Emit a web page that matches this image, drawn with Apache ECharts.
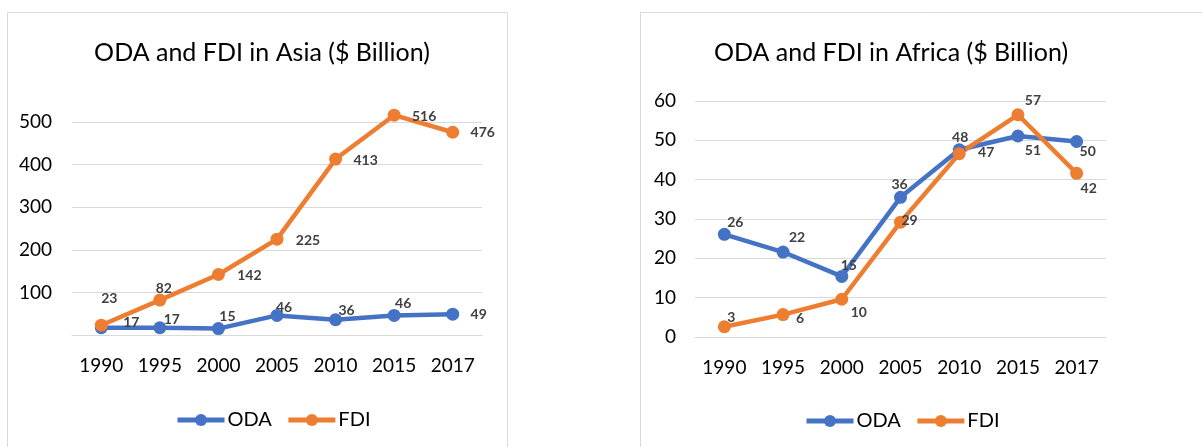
<!DOCTYPE html>
<html><head><meta charset="utf-8">
<script src="https://cdn.jsdelivr.net/npm/echarts@6/dist/echarts.min.js"></script>
<style>html,body{margin:0;padding:0;background:#fff}#c{width:1202px;height:447px}</style>
</head><body><div id="c"></div>
<script>
const years = ['1990','1995','2000','2005','2010','2015','2017'];
const asiaODA = [17, 17, 15, 46, 36, 46, 49];
const asiaFDI = [23, 82, 142, 225, 413, 516, 476];
const africaODA = [26.1, 21.6, 15.4, 35.5, 47.6, 51.1, 49.7];
const africaFDI = [2.6, 5.7, 9.6, 29.2, 46.6, 56.5, 41.6];
const asiaTicks = [0, 100, 200, 300, 400, 500];
const africaTicks = [0, 10, 20, 30, 40, 50, 60];

// label offsets (style only)
const offAsiaODA = [[30,-5],[12,-8],[9,-12],[7,-8],[11,-9],[9,-12],[26,0]];
const offAsiaFDI = [[8,-27],[4,-12],[31,1],[31,1],[30,1],[30,1],[30,0]];
const offAfODA = [[11,-12],[14,-15],[7,-11],[-1,-13],[1,-12],[15,14],[11,10]];
const offAfFDI = [[7,-9],[17,4],[17,13],[9,-2],[27,-1],[15,-14],[12,15]];

const BLUE = '#4472C4', ORANGE = '#ED7D31';
const FONT = 'Lato';

function mk(vals, offs) {
  return vals.map((v, i) => ({ value: v, label: { offset: offs[i] } }));
}
function series(name, vals, offs, color, idx) {
  return {
    name, type: 'line', xAxisIndex: idx, yAxisIndex: idx,
    data: mk(vals, offs), clip: false,
    symbol: 'circle', symbolSize: 13,
    lineStyle: { color, width: 4.5 },
    itemStyle: { color },
    label: {
      show: true, position: 'inside', color: '#404040', fontWeight: 'bold',
      fontFamily: FONT, fontSize: 14,
      formatter: p => Math.round(p.value)
    },
    emphasis: { disabled: true },
    animation: false
  };
}
const axisLabelStyle = { color: '#000', fontFamily: FONT, fontSize: 19 };
const legendCommon = {
  data: ['ODA', 'FDI'], itemWidth: 47, itemHeight: 15, itemGap: 14,
  lineStyle: { width: 5 },
  textStyle: { fontFamily: FONT, fontSize: 20, color: '#000', padding: [0, 0, 0, -2] },
  selectedMode: false
};
const chart = echarts.init(document.getElementById('c'), null, { renderer: 'canvas' });
chart.setOption({
  animation: false,
  graphic: [
    { type: 'rect', shape: { x: 7.5, y: 12.5, width: 500, height: 450 }, style: { fill: 'none', stroke: '#d9d9d9', lineWidth: 1 } },
    { type: 'rect', shape: { x: 640.5, y: 12.5, width: 600, height: 450 }, style: { fill: 'none', stroke: '#d9d9d9', lineWidth: 1 } }
  ],
  title: [
    { text: 'ODA and FDI in Asia ($ Billion)', left: 257, top: 35, textAlign: 'center',
      textStyle: { fontFamily: FONT, fontSize: 25, fontWeight: 'normal', color: '#000' } },
    { text: 'ODA and FDI in Africa ($ Billion)', left: 886, top: 35, textAlign: 'center',
      textStyle: { fontFamily: FONT, fontSize: 25, fontWeight: 'normal', color: '#000' } }
  ],
  legend: [
    Object.assign({ left: 170, top: 405 }, legendCommon),
    Object.assign({ left: 799, top: 406 }, legendCommon)
  ],
  grid: [
    { left: 72, width: 410, top: 122, height: 213 },
    { left: 695, width: 411, top: 101, height: 236 }
  ],
  xAxis: [0, 1].map(i => ({
    type: 'category', gridIndex: i, data: years, boundaryGap: true,
    axisLine: { lineStyle: { color: '#d9d9d9', width: 1 } },
    axisTick: { show: false },
    axisLabel: Object.assign({ margin: 21 }, axisLabelStyle)
  })),
  yAxis: [
    { type: 'value', gridIndex: 0, min: asiaTicks[0], max: asiaTicks[asiaTicks.length - 1], interval: 100,
      axisLine: { show: false }, axisTick: { show: false },
      splitLine: { lineStyle: { color: '#d9d9d9', width: 1 } },
      axisLabel: Object.assign({ margin: 20, formatter: v => v === 0 ? '' : v }, axisLabelStyle) },
    { type: 'value', gridIndex: 1, min: africaTicks[0], max: africaTicks[africaTicks.length - 1], interval: 10,
      axisLine: { show: false }, axisTick: { show: false },
      splitLine: { lineStyle: { color: '#d9d9d9', width: 1 } },
      axisLabel: Object.assign({ margin: 19 }, axisLabelStyle) }
  ],
  series: [
    series('ODA', asiaODA, offAsiaODA, BLUE, 0),
    series('FDI', asiaFDI, offAsiaFDI, ORANGE, 0),
    series('ODA', africaODA, offAfODA, BLUE, 1),
    series('FDI', africaFDI, offAfFDI, ORANGE, 1)
  ]
});
</script>
</body></html>
